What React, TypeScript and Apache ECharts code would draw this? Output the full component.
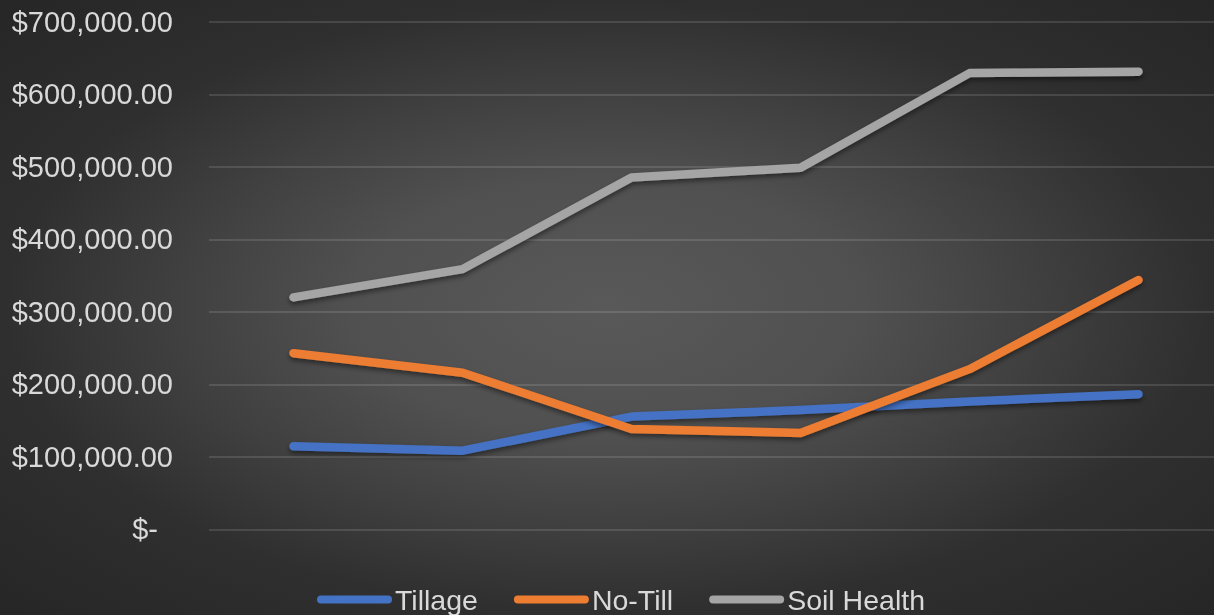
import React, { useEffect, useRef } from "react";
import * as echarts from "echarts";

const categories = ["Year 1", "Year 2", "Year 3", "Year 4", "Year 5", "Year 6"];
const tillage = [114500, 108500, 155500, 164500, 176500, 186500];
const noTill = [243000, 216000, 138500, 133000, 221000, 344000];
const soilHealth = [320000, 359000, 485500, 499000, 629500, 631500];
const yTicks = { min: 0, max: 700000, interval: 100000 };

const FONT = "'Liberation Sans', Arial, sans-serif";
const LABEL_COLOR = "#d9d9d9";

function fmt(v: number): string {
  if (v === 0) return "{z|$-}";
  return "$" + v.toLocaleString("en-US", { minimumFractionDigits: 2, maximumFractionDigits: 2 });
}

const capsule = "path://M4,0 L71,0 A4,4 0 0 1 71,8 L4,8 A4,4 0 0 1 4,0 Z";

export default function App() {
  const ref = useRef<HTMLDivElement>(null);
  useEffect(() => {
    document.body.style.margin = "0";
    if (!ref.current) return;
    const chart = echarts.init(ref.current, undefined, { renderer: "svg" });
    const mk = (name: string, data: number[], color: string) => ({
      name,
      type: "line",
      data,
      symbol: "none",
      showSymbol: false,
      color,
      lineStyle: {
        width: 8.5,
        color,
        cap: "round",
        join: "round",
        shadowColor: "rgba(0,0,0,0.45)",
        shadowBlur: 5,
        shadowOffsetY: 3,
      },
    });
    chart.setOption({
      animation: false,
      backgroundColor: "transparent",
      textStyle: { fontFamily: FONT },
      grid: { left: 209, top: 22, width: 1014, height: 507.3, outerBoundsMode: "none", containLabel: false },
      legend: {
        left: 312,
        top: 580,
        itemWidth: 75,
        itemHeight: 8,
        itemGap: 36,
        icon: capsule,
        textStyle: { color: LABEL_COLOR, fontSize: 28.5, fontFamily: FONT, padding: [0, 0, 0, -2] },
        data: ["Tillage", "No-Till", "Soil Health"],
      },
      xAxis: {
        type: "category",
        data: categories,
        boundaryGap: true,
        axisLine: { show: false },
        axisTick: { show: false },
        axisLabel: { show: false },
        splitLine: { show: false },
      },
      yAxis: {
        type: "value",
        min: yTicks.min,
        max: yTicks.max,
        interval: yTicks.interval,
        axisLine: { show: false },
        axisTick: { show: false },
        axisLabel: {
          color: LABEL_COLOR,
          fontSize: 29,
          fontFamily: FONT,
          margin: 36,
          formatter: fmt,
          rich: { z: { color: LABEL_COLOR, fontSize: 29, fontFamily: FONT, padding: [0, 15, 0, 0] } },
        },
        splitLine: { lineStyle: { color: "rgba(255,255,255,0.12)", width: 2 } },
      },
      series: [
        mk("Tillage", tillage, "#4472C4"),
        mk("No-Till", noTill, "#ED7D31"),
        mk("Soil Health", soilHealth, "#A5A5A5"),
      ],
    });
    return () => chart.dispose();
  }, []);
  return (
    <div
      ref={ref}
      style={{
        position: "fixed",
        left: 0,
        top: 0,
        width: 1214,
        height: 615,
        background:
          "radial-gradient(ellipse farthest-corner at 50% 50%, #595959 0%, #505050 30%, #404040 50%, #2f2f2f 70%, #262626 100%)",
      }}
    />
  );
}
